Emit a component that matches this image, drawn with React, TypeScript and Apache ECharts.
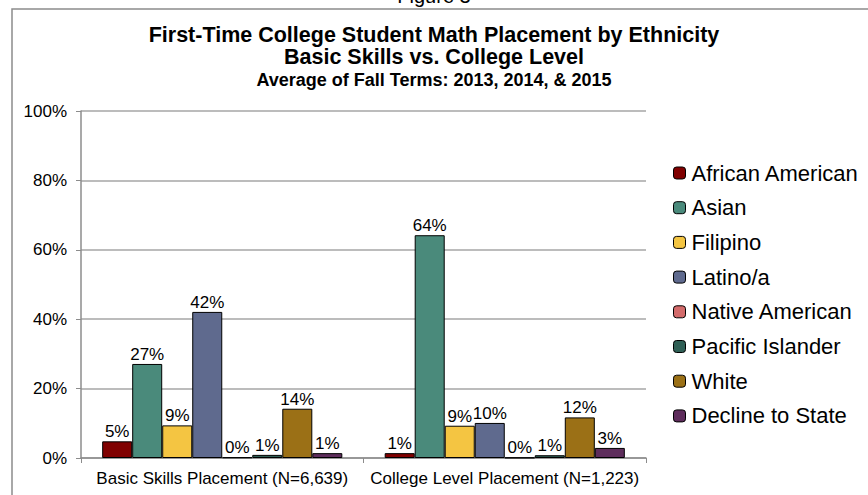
import React, { useEffect, useRef } from "react";
import * as echarts from "echarts";

const categories = ["Basic Skills Placement (N=6,639)", "College Level Placement (N=1,223)"];
const seriesNames = [
  "African American",
  "Asian",
  "Filipino",
  "Latino/a",
  "Native American",
  "Pacific Islander",
  "White",
  "Decline to State",
];
const africanAmerican = [4.8, 1.4];
const asian = [27.1, 64.2];
const filipino = [9.4, 9.3];
const latino = [42.1, 10.1];
const nativeAmerican = [0.2, 0.1];
const pacificIslander = [0.9, 0.8];
const white = [14.2, 11.7];
const declineToState = [1.4, 2.9];
const seriesValues = [africanAmerican, asian, filipino, latino, nativeAmerican, pacificIslander, white, declineToState];
const colors = ["#800000", "#4a8a7b", "#f4c542", "#5f6a8e", "#d36b6b", "#2f5f55", "#9b7016", "#5e2d5c"];
const yTicks = [0, 20, 40, 60, 80, 100];

const FONT = "'Liberation Sans', Arial, sans-serif";

export default function App() {
  const ref = useRef<HTMLDivElement>(null);
  useEffect(() => {
    if (!ref.current) return;
    const chart = echarts.init(ref.current, null, { renderer: "svg" });
    chart.setOption({
      animation: false,
      backgroundColor: "#ffffff",
      textStyle: { fontFamily: FONT, color: "#000" },
      title: {
        text: "First-Time College Student Math Placement by Ethnicity\nBasic Skills vs. College Level",
        subtext: "Average of Fall Terms: 2013, 2014, & 2015",
        left: "center",
        top: 24,
        padding: 0,
        itemGap: 2,
        textStyle: { fontFamily: FONT, fontSize: 21.5, fontWeight: "bold", color: "#000", lineHeight: 22 },
        subtextStyle: { fontFamily: FONT, fontSize: 18, fontWeight: "bold", color: "#000", lineHeight: 20 },
      },
      graphic: [
        {
          type: "rect",
          shape: { x: 12, y: 9, width: 880, height: 510 },
          style: { fill: "none", stroke: "#8c8c8c", lineWidth: 1.5 },
          silent: true,
        },
        {
          type: "text",
          x: 434,
          y: 6,
          style: {
            text: "Figure 3",
            fontFamily: FONT,
            fontSize: 20,
            fill: "#000",
            align: "center",
            verticalAlign: "bottom",
          },
        },
      ],
      legend: {
        orient: "vertical",
        left: 673,
        top: 162,
        padding: 0,
        itemWidth: 12,
        itemHeight: 12,
        itemGap: 12.7,
        data: seriesNames,
        textStyle: { fontFamily: FONT, fontSize: 22, color: "#000", lineHeight: 22, padding: [0, 0, 0, 1] },
        itemStyle: { borderColor: "#000", borderWidth: 1 },
      },
      grid: { left: 81, right: 222, top: 111, bottom: 37 },
      xAxis: {
        type: "category",
        data: categories,
        axisLine: { show: true, lineStyle: { color: "#8c8c8c", width: 1.5 } },
        axisTick: { show: true, length: 5, lineStyle: { color: "#8c8c8c" } },
        axisLabel: { fontFamily: FONT, fontSize: 17, color: "#000", margin: 12, interval: 0 },
      },
      yAxis: {
        type: "value",
        min: yTicks[0],
        max: yTicks[yTicks.length - 1],
        interval: 20,
        axisLine: { show: true, lineStyle: { color: "#8c8c8c", width: 1.5 } },
        axisTick: { show: true, length: 5, lineStyle: { color: "#8c8c8c" } },
        splitLine: { show: true, lineStyle: { color: "#a6a6a6", width: 1.5 } },
        axisLabel: { fontFamily: FONT, fontSize: 17, color: "#000", margin: 14, formatter: "{value}%" },
      },
      series: seriesNames.map((name, i) => ({
        name,
        type: "bar",
        data: seriesValues[i],
        barGap: "0%",
        barCategoryGap: "15%",
        itemStyle: { color: colors[i], borderColor: "#000", borderWidth: 1 },
        label: {
          show: true,
          position: "top",
          distance: 1,
          fontFamily: FONT,
          fontSize: 17,
          color: "#000",
          formatter: (p: any) => Math.round(p.value) + "%",
        },
      })),
    });
    return () => chart.dispose();
  }, []);
  return <div ref={ref} style={{ width: 868, height: 495, position: "fixed", left: 0, top: 0 }} />;
}
